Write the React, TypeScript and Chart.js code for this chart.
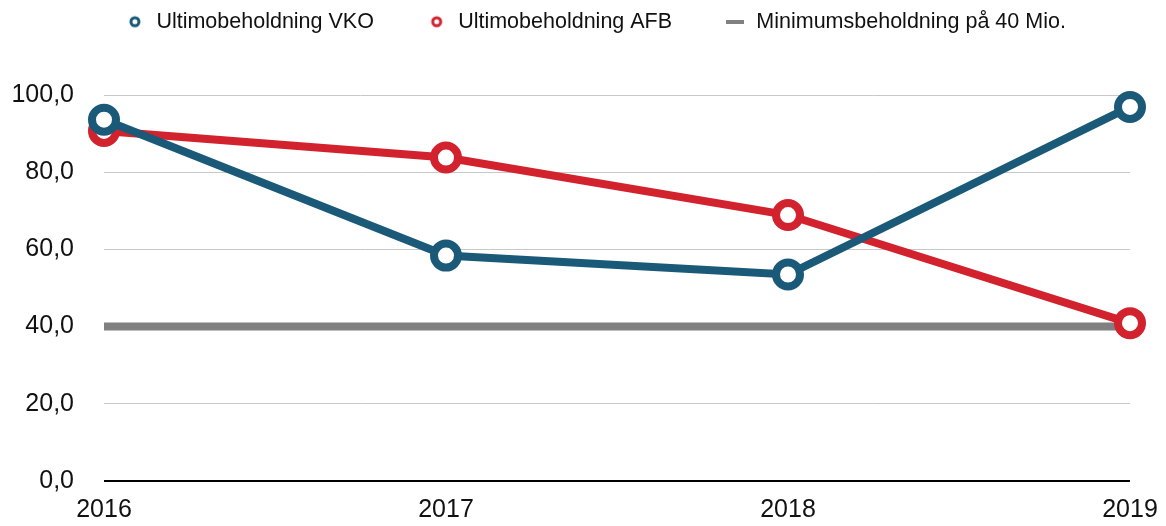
import React, { useEffect, useRef } from "react";
import { Chart, registerables } from "chart.js";

Chart.register(...registerables);

const categories = ["2016", "2017", "2018", "2019"];
const vkoValues = [93.6, 58.4, 53.5, 96.9];
const afbValues = [90.7, 83.8, 68.9, 40.9];
const minValues = [40, 40, 40, 40];
const seriesLabels = ["Ultimobeholdning VKO", "Ultimobeholdning AFB", "Minimumsbeholdning på 40 Mio."];

const BLUE = "#1a5a78";
const RED = "#d2222e";
const GRAY = "#808080";
const FONT = "'Liberation Sans', Arial, Helvetica, sans-serif";

function ringIcon(color: string): HTMLCanvasElement {
  const c = document.createElement("canvas");
  c.width = 14;
  c.height = 14;
  const g = c.getContext("2d")!;
  g.beginPath();
  g.arc(7, 7, 4, 0, Math.PI * 2);
  g.fillStyle = "#fff";
  g.fill();
  g.lineWidth = 3;
  g.strokeStyle = color;
  g.stroke();
  return c;
}

function lineIcon(color: string): HTMLCanvasElement {
  const c = document.createElement("canvas");
  c.width = 18;
  c.height = 4;
  const g = c.getContext("2d")!;
  g.fillStyle = color;
  g.fillRect(0, 0, 18, 4);
  return c;
}

const legendFix = {
  id: "legendFix",
  beforeUpdate(chart: any) {
    const lg = chart.legend;
    if (!lg || lg.__patched) return;
    lg.__patched = true;
    const origFit = lg.fit.bind(lg);
    lg.fit = function () {
      origFit();
      this.height = 95;
    };
    const origDraw = lg._draw.bind(lg);
    lg._draw = function () {
      const t = this.top;
      const l = this.left;
      const r = this.right;
      this.top = t - 41;
      this.left = l + 30;
      this.right = r + 30;
      origDraw();
      this.top = t;
      this.left = l;
      this.right = r;
    };
  },
};

export default function App() {
  const ref = useRef<HTMLCanvasElement | null>(null);

  useEffect(() => {
    document.body.style.margin = "0";
    const icons = [ringIcon(BLUE), ringIcon(RED), lineIcon(GRAY)];
    const chart = new Chart(ref.current!, {
      type: "line",
      plugins: [legendFix],
      data: {
        labels: categories,
        datasets: [
          {
            label: seriesLabels[0],
            data: vkoValues,
            borderColor: BLUE,
            backgroundColor: "#ffffff",
            borderWidth: 8,
            pointRadius: 12,
            pointHoverRadius: 12,
            pointBorderWidth: 8,
            pointBorderColor: BLUE,
            pointBackgroundColor: "#ffffff",
            tension: 0,
            clip: false as any,
          },
          {
            label: seriesLabels[1],
            data: afbValues,
            borderColor: RED,
            backgroundColor: "#ffffff",
            borderWidth: 8,
            pointRadius: 12,
            pointHoverRadius: 12,
            pointBorderWidth: 8,
            pointBorderColor: RED,
            pointBackgroundColor: "#ffffff",
            tension: 0,
            clip: false as any,
          },
          {
            label: seriesLabels[2],
            data: minValues,
            borderColor: GRAY,
            backgroundColor: GRAY,
            borderWidth: 8,
            borderCapStyle: "butt",
            pointRadius: 0,
            tension: 0,
          },
        ],
      },
      options: {
        animation: false,
        responsive: false,
        maintainAspectRatio: false,
        layout: { padding: { top: 0, right: 36, bottom: 0, left: 0 } },
        plugins: {
          tooltip: { enabled: false },
          legend: {
            position: "top",
            align: "center",
            labels: {
              usePointStyle: true,
              boxWidth: 27,
              boxHeight: 20,
              padding: 52,
              color: "#111",
              font: { family: FONT, size: 21.5 },
              generateLabels: (ch: any) => {
                const items = Chart.defaults.plugins.legend.labels.generateLabels(ch);
                items.forEach((it: any, i: number) => {
                  it.pointStyle = icons[i];
                });
                return items;
              },
            },
          },
        },
        scales: {
          x: {
            grid: { display: false, drawTicks: false },
            border: { display: false },
            offset: false,
            ticks: {
              color: "#111",
              font: { family: FONT, size: 25 },
              padding: 14,
              maxRotation: 0,
            },
            afterFit: (s: any) => {
              s.height = 42;
              s.paddingLeft = 0;
              s.paddingRight = 0;
            },
          },
          y: {
            min: 0,
            max: 100,
            grid: {
              drawTicks: false,
              color: (c: any) => (c.tick && c.tick.value === 0 ? "#000" : "#c8c8c8"),
              lineWidth: (c: any) => (c.tick && c.tick.value === 0 ? 2 : 1),
            },
            border: { display: false },
            ticks: {
              stepSize: 20,
              color: "#111",
              font: { family: FONT, size: 25 },
              padding: 30,
              callback: (v: any) => Number(v).toFixed(1).replace(".", ","),
            },
            afterFit: (s: any) => {
              s.width = 104;
            },
          },
        },
      },
    });
    return () => chart.destroy();
  }, []);

  return (
    <div style={{ width: 1166, height: 526 }}>
      <canvas ref={ref} width={1166} height={526} style={{ width: 1166, height: 526, display: "block" }} />
    </div>
  );
}
